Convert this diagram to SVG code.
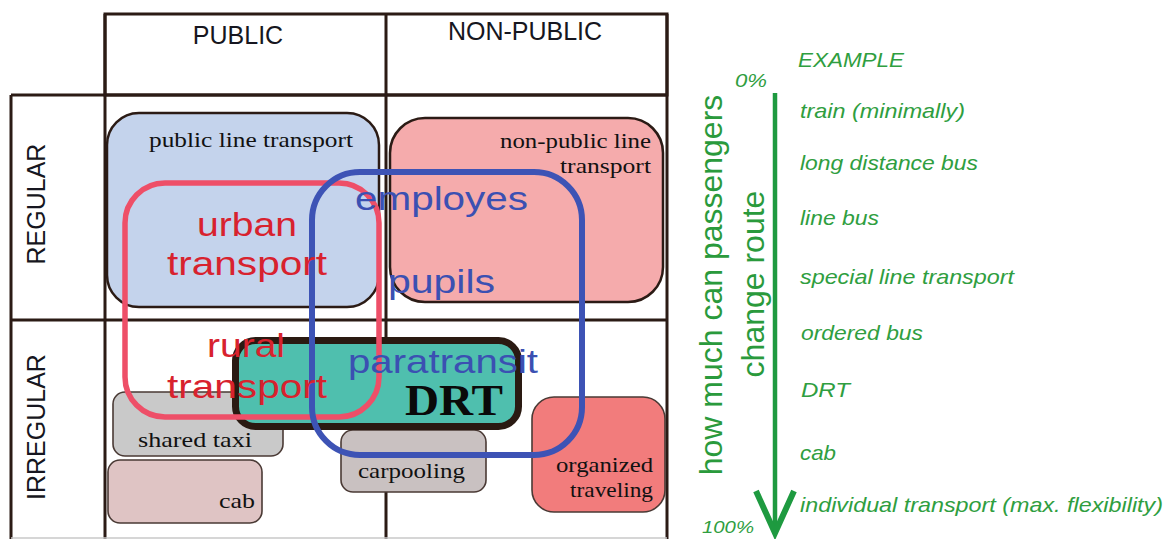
<svg xmlns="http://www.w3.org/2000/svg" width="1167" height="539" viewBox="0 0 1167 539">
<style>
.grid{stroke:#2b1b15;stroke-width:3;fill:none}
.box{stroke:#2b1b15;stroke-width:2.5}
.sbox{stroke:#4a3a35;stroke-width:1.6}
.serif{font-family:"Liberation Serif","Times New Roman",serif;font-size:22px;fill:#111}
.hdr{font-family:"Liberation Sans",Arial,sans-serif;font-size:25px;fill:#161620}
.loopred{fill:none;stroke:#ee4f68;stroke-width:5.5}
.loopblue{fill:none;stroke:#3d53b5;stroke-width:6}
.big{font-family:"Liberation Sans",Arial,sans-serif;font-size:33px}
.red{fill:#d8222e}
.blue{fill:#3b50b2}
.green{font-family:"Liberation Sans",Arial,sans-serif;font-style:italic;font-size:21px;fill:#2f9e40}
.axis{font-family:"Liberation Sans",Arial,sans-serif;font-size:32px;fill:#2a9a3c}
</style>
<rect width="1167" height="539" fill="#ffffff"/>
<g id="grid">
<rect class="grid" x="105" y="14" width="562" height="81"/>
<line class="grid" x1="11" y1="95" x2="667" y2="95"/>
<line class="grid" x1="11" y1="320" x2="667" y2="320"/>
<line class="grid" x1="11" y1="95" x2="11" y2="539"/>
<line class="grid" x1="105" y1="14" x2="105" y2="539"/>
<line class="grid" x1="386" y1="14" x2="386" y2="539"/>
<line class="grid" x1="667" y1="14" x2="667" y2="539"/>
<line x1="11" y1="538" x2="667" y2="538" stroke="#c8c8c8" stroke-width="1.5"/>
<text class="hdr" x="238" y="44" text-anchor="middle">PUBLIC</text>
<text class="hdr" x="525" y="40" text-anchor="middle">NON-PUBLIC</text>
<text class="hdr" transform="translate(45,204) rotate(-90)" text-anchor="middle">REGULAR</text>
<text class="hdr" transform="translate(45,427) rotate(-90)" text-anchor="middle">IRREGULAR</text>
</g>
<g id="public-line-transport">
<rect class="box" x="107" y="113" width="272" height="194" rx="32" fill="#c4d3ec"/>
<text class="serif" x="149" y="147" textLength="204" lengthAdjust="spacingAndGlyphs">public line transport</text>
</g>
<g id="non-public-line-transport">
<rect class="box" x="390" y="118" width="273" height="184" rx="35" fill="#f5abac"/>
<text class="serif" x="500" y="148" textLength="151" lengthAdjust="spacingAndGlyphs">non-public line</text>
<text class="serif" x="560" y="173" textLength="91" lengthAdjust="spacingAndGlyphs">transport</text>
</g>
<g id="shared-taxi">
<rect class="sbox" x="113" y="392" width="170" height="64" rx="12" fill="#c9c9c9"/>
<text class="serif" x="138" y="447" textLength="114" lengthAdjust="spacingAndGlyphs">shared taxi</text>
</g>
<g id="cab">
<rect class="sbox" x="108" y="460" width="154" height="63" rx="12" fill="#dfc4c4"/>
<text class="serif" x="219" y="508" textLength="36" lengthAdjust="spacingAndGlyphs">cab</text>
</g>
<g id="carpooling">
<rect class="sbox" x="341" y="430" width="145" height="62" rx="12" fill="#c9c1c1"/>
<text class="serif" x="358" y="478" textLength="107" lengthAdjust="spacingAndGlyphs">carpooling</text>
</g>
<g id="organized-traveling">
<rect class="sbox" x="532" y="397" width="133" height="115" rx="22" fill="#f27c7c"/>
<text class="serif" x="556" y="472" textLength="97" lengthAdjust="spacingAndGlyphs">organized</text>
<text class="serif" x="570" y="497" textLength="83" lengthAdjust="spacingAndGlyphs">traveling</text>
</g>
<g id="drt">
<rect x="235.5" y="340.5" width="283" height="86" rx="20" fill="#4fbfae" stroke="#2a1a12" stroke-width="7"/>
<text x="405" y="415" textLength="98" lengthAdjust="spacingAndGlyphs" style="font-family:'Liberation Serif','Times New Roman',serif;font-weight:bold;font-size:45px;fill:#0a0a0a">DRT</text>
</g>
<g id="urban-rural-transport">
<rect class="loopred" x="125" y="183" width="254" height="234" rx="40"/>
</g>
<g id="employes-pupils-paratransit">
<rect class="loopblue" x="312" y="172" width="270" height="283" rx="48"/>
</g>
<g id="loop-labels">
<text class="big red" x="197" y="236" textLength="100" lengthAdjust="spacingAndGlyphs">urban</text>
<text class="big red" x="167" y="275" textLength="160" lengthAdjust="spacingAndGlyphs">transport</text>
<text class="big red" x="207" y="357" textLength="78" lengthAdjust="spacingAndGlyphs">rural</text>
<text class="big red" x="167" y="398" textLength="160" lengthAdjust="spacingAndGlyphs">transport</text>
<text class="big blue" x="355" y="210" textLength="173" lengthAdjust="spacingAndGlyphs">employes</text>
<text class="big blue" x="388" y="293" textLength="107" lengthAdjust="spacingAndGlyphs">pupils</text>
<text class="big blue" x="348" y="373" textLength="190" lengthAdjust="spacingAndGlyphs">paratransit</text>
</g>
<g id="connectors">
<line x1="775" y1="93" x2="775" y2="533" stroke="#1e9a40" stroke-width="4.5"/>
<polyline points="756,491 775,533 794,491" fill="none" stroke="#1e9a40" stroke-width="6" stroke-linejoin="miter"/>
</g>
<g id="scale-labels">
<text class="axis" transform="translate(722,285) rotate(-90)" text-anchor="middle">how much can passengers</text>
<text class="axis" transform="translate(764,284) rotate(-90)" text-anchor="middle">change route</text>
<text class="green" x="735" y="87" style="font-size:19px" textLength="32" lengthAdjust="spacingAndGlyphs">0%</text>
<text class="green" x="702" y="533" style="font-size:17px" textLength="52" lengthAdjust="spacingAndGlyphs">100%</text>
<text class="green" x="798" y="67" textLength="106" lengthAdjust="spacingAndGlyphs">EXAMPLE</text>
<text class="green" x="800" y="118" textLength="165" lengthAdjust="spacingAndGlyphs">train (minimally)</text>
<text class="green" x="800" y="170" textLength="178" lengthAdjust="spacingAndGlyphs">long distance bus</text>
<text class="green" x="800" y="225" textLength="79" lengthAdjust="spacingAndGlyphs">line bus</text>
<text class="green" x="800" y="284" textLength="214" lengthAdjust="spacingAndGlyphs">special line transport</text>
<text class="green" x="801" y="340" textLength="122" lengthAdjust="spacingAndGlyphs">ordered bus</text>
<text class="green" x="801" y="397" textLength="49" lengthAdjust="spacingAndGlyphs">DRT</text>
<text class="green" x="800" y="460" textLength="36" lengthAdjust="spacingAndGlyphs">cab</text>
<text class="green" x="800" y="512" textLength="363" lengthAdjust="spacingAndGlyphs">individual transport (max. flexibility)</text>
</g>
</svg>
